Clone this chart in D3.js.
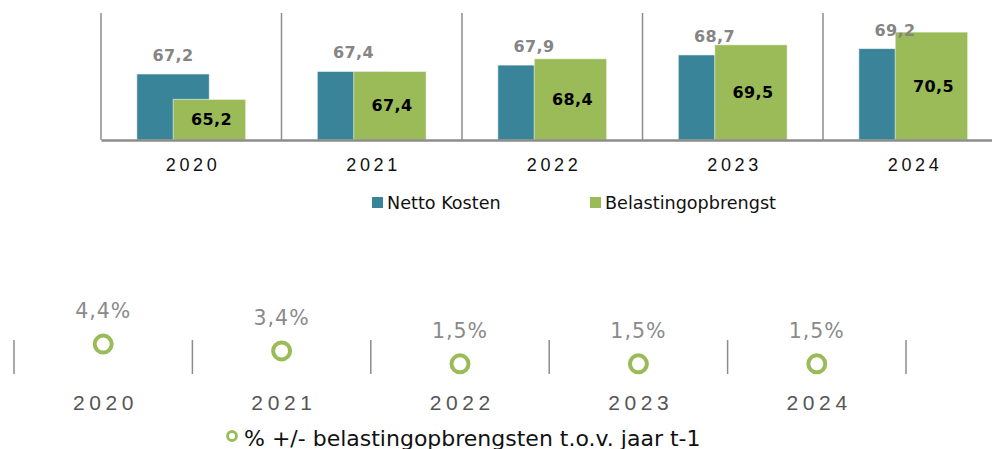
<!DOCTYPE html>
<html lang="nl">
  <head>
    <meta charset="utf-8">
    <title>Netto kosten en belastingopbrengst</title>
    <script src="https://d3js.org/d3.v7.min.js"></script>
    <style>
      body { margin: 0; background: #fff; }
      svg { display: block; font-family: 'DejaVu Sans', Verdana, sans-serif; }
    </style>
  </head>
  <body>
    <script>
// data
const years = ['2020', '2021', '2022', '2023', '2024']
const series = ['Netto Kosten', 'Belastingopbrengst']
const nettoKosten = [67.2, 67.4, 67.9, 68.7, 69.2]
const belasting = [65.2, 67.4, 68.4, 69.5, 70.5]
const groei = [4.4, 3.4, 1.5, 1.5, 1.5]
const groeiLabel = '% +/- belastingopbrengsten t.o.v. jaar t-1'

const colors = { 'Netto Kosten': '#3a8499', 'Belastingopbrengst': '#9bbb59' }
const fmt = v => d3.format('.1f')(v).replace('.', ',')

const width = 992, height = 449

const svg = d3.select('body')
  .append('svg')
  .attr('width', width)
  .attr('height', height)

// ---------- top: grouped (overlapping) bars ----------
const barArea = { left: 101, right: 1003.5, top: 13, bottom: 140 }

const x0 = d3.scaleBand()
  .domain(years)
  .range([barArea.left, barArea.right])

const xOff = d3.scalePoint()
  .domain(series)
  .range([-18.2, 18.2])

const barW = 72.5

const y0 = d3.scaleLinear()
  .domain([62, 72])
  .range([barArea.bottom, barArea.top])

const rows = years.map((y, i) => ({ year: y, values: [
  { key: series[0], value: nettoKosten[i] },
  { key: series[1], value: belasting[i] }
] }))

// vertical separators
svg.append('g')
  .selectAll('line')
  .data(years.concat(['end']))
  .join('line')
  .attr('x1', d => d === 'end' ? barArea.right : x0(d))
  .attr('x2', d => d === 'end' ? barArea.right : x0(d))
  .attr('y1', barArea.top)
  .attr('y2', barArea.bottom)
  .attr('stroke', '#8c8c8c')
  .attr('stroke-width', 1.5)

const groups = svg.append('g')
  .selectAll('g')
  .data(rows)
  .join('g')
  .attr('transform', d => `translate(${x0(d.year) + x0.bandwidth() / 2},0)`)

groups.selectAll('rect')
  .data(d => d.values)
  .join('rect')
  .attr('x', d => xOff(d.key) - barW / 2)
  .attr('y', d => y0(d.value))
  .attr('width', barW)
  .attr('height', d => y0.range()[0] - y0(d.value))
  .attr('fill', d => colors[d.key])
  .attr('stroke', 'rgba(255,255,255,0.6)')
  .attr('stroke-width', 1)

// netto labels above bar (gray)
groups.append('text')
  .attr('x', xOff(series[0]))
  .attr('y', d => y0(d.values[0].value) - 13)
  .attr('text-anchor', 'middle')
  .attr('font-size', 16)
  .attr('font-weight', 'bold')
  .attr('fill', '#858585')
  .style('letter-spacing', '0.4px')
  .text(d => fmt(d.values[0].value))

// belasting labels inside bar (black)
groups.append('text')
  .attr('x', xOff(series[1]) + 2)
  .attr('y', d => (y0(d.values[1].value) + y0.range()[0]) / 2)
  .attr('dy', '0.36em')
  .attr('text-anchor', 'middle')
  .attr('font-size', 16)
  .attr('font-weight', 'bold')
  .attr('fill', '#000')
  .style('letter-spacing', '0.4px')
  .text(d => fmt(d.values[1].value))

// x axis
const xAxis = svg.append('g')
  .attr('transform', `translate(0,${barArea.bottom})`)
  .call(d3.axisBottom(x0).tickSize(0).tickPadding(18))
xAxis.select('.domain').attr('stroke', '#8c8c8c').attr('stroke-width', 2.5)
xAxis.selectAll('text')
  .attr('font-size', 18)
  .attr('fill', '#111')
  .style('letter-spacing', '3.6px')
  .attr('dx', '1.8px')

// legend
const legend = svg.append('g')
  .selectAll('g')
  .data(series)
  .join('g')
  .attr('transform', (d, i) => `translate(${[372, 590][i]},197)`)

legend.append('rect')
  .attr('width', 11)
  .attr('height', 11)
  .attr('fill', d => colors[d])

legend.append('text')
  .attr('x', 15)
  .attr('y', 11.5)
  .attr('font-size', 17.6)
  .attr('fill', '#111')
  .text(d => d)

// ---------- bottom: growth dots ----------
const dotArea = { left: 14, right: 906, top: 340, bottom: 374 }

const x1 = d3.scaleBand()
  .domain(years)
  .range([dotArea.left, dotArea.right])

const y1 = d3.scaleLinear()
  .domain([0, 5])
  .range([dotArea.bottom, dotArea.top])

svg.append('g')
  .selectAll('line')
  .data(years.concat(['end']))
  .join('line')
  .attr('x1', d => d === 'end' ? dotArea.right : x1(d))
  .attr('x2', d => d === 'end' ? dotArea.right : x1(d))
  .attr('y1', dotArea.top)
  .attr('y2', dotArea.bottom)
  .attr('stroke', '#8c8c8c')
  .attr('stroke-width', 1.5)

const dots = svg.append('g')
  .selectAll('g')
  .data(years.map((y, i) => ({ year: y, value: groei[i] })))
  .join('g')
  .attr('transform', d => `translate(${x1(d.year) + x1.bandwidth() / 2},${y1(d.value)})`)

dots.append('circle')
  .attr('r', 8.5)
  .attr('fill', '#fff')
  .attr('stroke', '#9bbb59')
  .attr('stroke-width', 4)

dots.append('text')
  .attr('y', -26)
  .attr('text-anchor', 'middle')
  .attr('font-size', 20.5)
  .attr('fill', '#8a8a8a')
  .style('letter-spacing', '1px')
  .text(d => fmt(d.value) + '%')

const xAxis2 = svg.append('g')
  .attr('transform', `translate(0,${dotArea.bottom})`)
  .call(d3.axisBottom(x1).tickSize(0).tickPadding(21))
xAxis2.select('.domain').remove()
xAxis2.selectAll('text')
  .attr('font-size', 21)
  .attr('fill', '#555')
  .style('letter-spacing', '4.6px')
  .attr('dx', '2.3px')

const leg2 = svg.append('g').attr('transform', 'translate(232,436)')
leg2.append('circle')
  .attr('r', 4.5)
  .attr('fill', '#fff')
  .attr('stroke', '#9bbb59')
  .attr('stroke-width', 2.8)
leg2.append('text')
  .attr('x', 12)
  .attr('y', 9.5)
  .attr('font-size', 22)
  .attr('fill', '#111')
  .text(groeiLabel)
    </script>
  </body>
</html>
